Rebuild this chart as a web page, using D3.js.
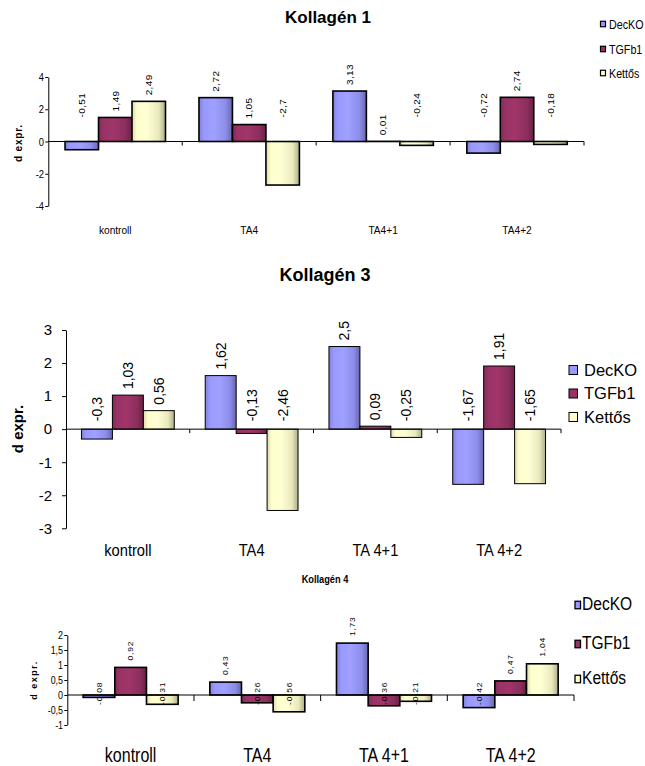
<!DOCTYPE html>
<html>
<head>
<meta charset="utf-8">
<script src="https://cdn.jsdelivr.net/npm/d3@7"></script>
<style>
  html, body { margin: 0; padding: 0; background: #ffffff; }
  svg { display: block; font-family: "Liberation Sans", Arial, sans-serif; }
</style>
</head>
<body>
<script>
// ---------- data ----------
const series = ["DecKO", "TGFb1", "Kettős"];
const seriesColors = ["#9999FF", "#993366", "#FFFFCC"];

const cats1 = ["kontroll", "TA4", "TA4+1", "TA4+2"];
const k1DecKO = [-0.51, 2.72, 3.13, -0.72];
const k1TGFb1 = [1.49, 1.05, 0.01, 2.74];
const k1Kettos = [2.49, -2.7, -0.24, -0.18];
const ticks1 = [-4, -2, 0, 2, 4];

const cats3 = ["kontroll", "TA4", "TA 4+1", "TA 4+2"];
const k3DecKO = [-0.3, 1.62, 2.5, -1.67];
const k3TGFb1 = [1.03, -0.13, 0.09, 1.91];
const k3Kettos = [0.56, -2.46, -0.25, -1.65];
const ticks3 = [-3, -2, -1, 0, 1, 2, 3];

const cats4 = ["kontroll", "TA4", "TA 4+1", "TA 4+2"];
const k4DecKO = [-0.08, 0.43, 1.73, -0.42];
const k4TGFb1 = [0.92, -0.26, -0.36, 0.47];
const k4Kettos = [-0.31, -0.56, -0.21, 1.04];
const ticks4 = [-1, -0.5, 0, 0.5, 1, 1.5, 2];

const yTitle = "d expr.";

// ---------- drawing ----------
const fmt = v => String(v).replace(".", ",");
const svg = d3.select("body").append("svg").attr("width", 645).attr("height", 766);

const defs = svg.append("defs");
seriesColors.forEach((c, j) => {
  const base = d3.color(c);
  const gr = defs.append("linearGradient").attr("id", "grad" + j)
    .attr("x1", 0).attr("x2", 1).attr("y1", 0).attr("y2", 0);
  [[0, base.darker(0.45)], [0.15, base], [0.45, base.brighter(0.12)], [0.8, base.darker(0.25)], [1, base.darker(1.1)]]
    .forEach(([o, col]) => gr.append("stop").attr("offset", o).attr("stop-color", col.formatHex()));
});

function drawPanel(p) {
  const g = svg.append("g");
  const x0 = d3.scaleBand().domain(p.cats).range(p.xRange).paddingInner(0).paddingOuter(0);
  const x1 = d3.scaleBand().domain(series).range([0, x0.bandwidth()]).paddingInner(0).paddingOuter(0.5);
  const y = d3.scaleLinear().domain(p.yDomain).range(p.yRange);
  const rows = p.cats.flatMap((c, i) => series.map((s, j) => ({ c, s, j, v: p.values[j][i] })));

  // title
  g.append("text").text(p.title)
    .attr("transform", `translate(${p.titleX},${p.titleY}) scale(${p.titleScale},1)`)
    .attr("text-anchor", "middle").attr("font-weight", "bold").attr("font-size", p.titleFont).attr("fill", "#000");

  // y axis
  const ya = g.append("g").attr("transform", `translate(${p.xRange[0]},0)`)
    .call(d3.axisLeft(y).tickValues(p.ticks).tickSize(p.tickSize).tickSizeOuter(0).tickPadding(p.tickPad).tickFormat(fmt));
  ya.selectAll("path,line").attr("stroke", "#000").attr("stroke-width", 1);
  ya.selectAll("text").attr("font-size", p.tickFont).attr("fill", "#000")
    .attr("font-family", "Liberation Sans, Arial, sans-serif")
    .attr("transform", `scale(${p.tickScale},1)`);

  // bars
  g.selectAll("rect.bar").data(rows).join("rect").attr("class", "bar")
    .attr("x", d => x0(d.c) + x1(d.s))
    .attr("width", x1.bandwidth())
    .attr("y", d => y(Math.max(d.v, 0)))
    .attr("height", d => Math.abs(y(d.v) - y(0)))
    .attr("fill", d => `url(#grad${d.j})`)
    .attr("stroke", "#000").attr("stroke-width", p.barStroke);

  // zero line + category boundary ticks
  g.append("line").attr("x1", p.xRange[0]).attr("x2", p.xRange[1])
    .attr("y1", y(0)).attr("y2", y(0)).attr("stroke", "#000").attr("stroke-width", 1);
  g.selectAll("line.ctick").data(p.cats).join("line").attr("class", "ctick")
    .attr("x1", c => x0(c) + x0.bandwidth()).attr("x2", c => x0(c) + x0.bandwidth())
    .attr("y1", y(0)).attr("y2", y(0) + p.xTickLen).attr("stroke", "#000").attr("stroke-width", 1);

  // category labels
  const xa = g.append("g").attr("transform", `translate(0,${p.catY})`)
    .call(d3.axisBottom(x0).tickSize(0).tickPadding(0));
  xa.select(".domain").remove();
  xa.selectAll("text").attr("y", 0).attr("dy", 0).attr("font-size", p.catFont).attr("fill", "#000")
    .attr("font-family", "Liberation Sans, Arial, sans-serif")
    .attr("transform", `scale(${p.catScale},1)`);

  // value labels
  g.selectAll("text.val").data(rows).join("text").attr("class", "val")
    .text(d => fmt(d.v))
    .attr("transform", d => {
      const cx = x0(d.c) + x1(d.s) + x1.bandwidth() / 2;
      const ys = d.v >= 0 ? y(d.v) - p.posGap : y(0) + p.negStart;
      return `translate(${cx},${ys}) rotate(-90) scale(1,${p.valScale})`;
    })
    .attr("dy", "0.36em").attr("text-anchor", "start")
    .attr("font-size", p.valFont).attr("letter-spacing", p.valLs).attr("fill", "#000");

  // y title
  g.append("text").text(yTitle)
    .attr("transform", `translate(${p.yLabX},${p.yLabY}) rotate(-90)`)
    .attr("text-anchor", "middle").attr("dy", "0.36em")
    .attr("font-weight", "bold").attr("font-size", p.yLabFont).attr("letter-spacing", p.yLabLs).attr("fill", "#000");

  // legend
  const lg = g.append("g");
  series.forEach((s, j) => {
    lg.append("rect").attr("x", p.legBoxX).attr("y", p.legY[j] - p.legBoxH / 2)
      .attr("width", p.legBoxW).attr("height", p.legBoxH)
      .attr("fill", seriesColors[j]).attr("stroke", "#000").attr("stroke-width", p.legStroke);
    lg.append("text").text(s)
      .attr("transform", `translate(${p.legTextX},${p.legY[j] + p.legTextDy}) scale(${p.legScale},1)`)
      .attr("dy", "0.36em").attr("font-size", p.legFont).attr("letter-spacing", p.legLs).attr("fill", "#000");
  });
}

drawPanel({
  title: "Kollagén 1", titleX: 328, titleY: 22.5, titleFont: 17, titleScale: 1,
  cats: cats1, values: [k1DecKO, k1TGFb1, k1Kettos], ticks: ticks1,
  xRange: [48.3, 584], yDomain: [-4, 4], yRange: [206, 77],
  tickSize: 3, tickPad: 2, tickFont: 11, tickScale: 0.85,
  barStroke: 1.6, xTickLen: 4,
  catY: 234, catFont: 11.5, catScale: 0.88,
  valFont: 10, valLs: 0.4, valScale: 0.9, posGap: 6, negStart: -24,
  yLabX: 18, yLabY: 143, yLabFont: 10, yLabLs: 0.8,
  legBoxX: 600.5, legBoxW: 5, legBoxH: 5.5, legStroke: 1.2, legY: [24, 49, 73], legTextX: 609, legTextDy: 0,
  legFont: 12.6, legScale: 0.85, legLs: 0
});

drawPanel({
  title: "Kollagén 3", titleX: 325, titleY: 281, titleFont: 18, titleScale: 1,
  cats: cats3, values: [k3DecKO, k3TGFb1, k3Kettos], ticks: ticks3,
  xRange: [66, 561], yDomain: [-3, 3], yRange: [528.3, 330],
  tickSize: 4, tickPad: 10, tickFont: 15, tickScale: 1,
  barStroke: 1, xTickLen: 4,
  catY: 556, catFont: 16, catScale: 0.92,
  valFont: 14, valLs: 0, valScale: 1, posGap: 6, negStart: -8,
  yLabX: 18, yLabY: 429, yLabFont: 15, yLabLs: 0,
  legBoxX: 569, legBoxW: 8.5, legBoxH: 9, legStroke: 1, legY: [370, 393.5, 417], legTextX: 584, legTextDy: 0,
  legFont: 16.5, legScale: 1, legLs: 0
});

drawPanel({
  title: "Kollagén 4", titleX: 325, titleY: 583, titleFont: 10.5, titleScale: 0.88,
  cats: cats4, values: [k4DecKO, k4TGFb1, k4Kettos], ticks: ticks4,
  xRange: [67.3, 574], yDomain: [-1, 2], yRange: [725, 635],
  tickSize: 3, tickPad: 2, tickFont: 10.5, tickScale: 0.85,
  barStroke: 1.6, xTickLen: 6,
  catY: 762, catFont: 20, catScale: 0.8,
  valFont: 8.5, valLs: 0.8, valScale: 0.9, posGap: 7, negStart: 10,
  yLabX: 33.7, yLabY: 680, yLabFont: 9, yLabLs: 1.5,
  legBoxX: 575, legBoxW: 5.5, legBoxH: 7.5, legStroke: 1.3, legY: [605, 644, 679], legTextX: 582, legTextDy: -2,
  legFont: 19, legScale: 0.82, legLs: 0
});
</script>
</body>
</html>
